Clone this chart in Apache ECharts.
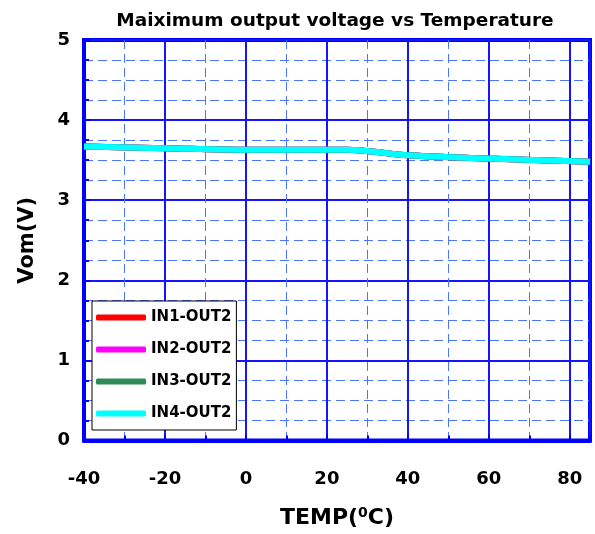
<!DOCTYPE html>
<html><head><meta charset="utf-8">
<script src="https://cdn.jsdelivr.net/npm/echarts@6/dist/echarts.min.js"></script>
<style>html,body{margin:0;padding:0;background:#fff}#c{width:595px;height:534px}</style>
</head><body><div id="c"></div>
<script>
var temps = [-40, -20, 0, 25, 40, 60, 85];
var in1 = [3.67, 3.65, 3.63, 3.63, 3.56, 3.52, 3.48];
var in2 = [3.67, 3.65, 3.63, 3.63, 3.56, 3.52, 3.48];
var in3 = [3.67, 3.65, 3.63, 3.63, 3.56, 3.52, 3.48];
var in4 = [3.67, 3.65, 3.63, 3.63, 3.56, 3.52, 3.48];
var names = ['IN1-OUT2', 'IN2-OUT2', 'IN3-OUT2', 'IN4-OUT2'];
var colors = ['#ff0000', '#ff00ff', '#2e8b57', '#00ffff'];
var seriesData = [in1, in2, in3, in4];

function pairs(arr){ return temps.map(function(t,i){ return [t, arr[i]]; }); }

var font = '"DejaVu Sans", sans-serif';
var chart = echarts.init(document.getElementById('c'));
chart.setOption({
  animation: false,
  title: {
    text: 'Maiximum output voltage vs Temperature',
    left: 330, top: 7, textAlign: 'center',
    textStyle: {fontFamily: font, fontWeight: 'bold', fontSize: 18.5, color: '#000'}
  },
  grid: {left: 84, right: 5, top: 40, bottom: 93, show: true, borderColor: '#0000ff', borderWidth: 4, backgroundColor: 'transparent'},
  legend: {
    orient: 'vertical', left: 92, top: 301,
    data: names.map(function(n){ return {name: n, icon: 'roundRect'}; }),
    itemWidth: 50, itemHeight: 6, itemGap: 15,
    padding: [8, 5, 8, 4],
    backgroundColor: '#fff', borderColor: '#000', borderWidth: 1, borderRadius: 0,
    textStyle: {fontFamily: font, fontWeight: 'bold', fontSize: 15, color: '#000', lineHeight: 17, padding: [0,0,0,0]}
  },
  xAxis: {
    type: 'value', min: -40, max: 85, interval: 20,
    name: '{a|TEMP(}{s|0}{a|C)}', nameLocation: 'middle', nameGap: 66,
    nameTextStyle: {rich: {
      a: {fontFamily: font, fontWeight: 'bold', fontSize: 22, color: '#000'},
      s: {fontFamily: font, fontWeight: 'bold', fontSize: 14, color: '#000', verticalAlign: 'top', padding: [0,0,9,0]}
    }},
    axisLine: {show: true, onZero: false, lineStyle: {color: '#0000ff', width: 4}},
    axisTick: {show: true, inside: true, length: 6, lineStyle: {color: '#0000ff', width: 2}},
    minorTick: {show: true, splitNumber: 2, length: 5, lineStyle: {color: '#0000ff', width: 2}},
    axisLabel: {showMaxLabel: false, margin: 30, fontFamily: font, fontWeight: 'bold', fontSize: 18, color: '#000'},
    splitLine: {show: true, lineStyle: {color: '#1414ff', width: 2}},
    minorSplitLine: {show: true, lineStyle: {color: '#4d74ff', width: 1, type: [9, 5]}}
  },
  yAxis: {
    type: 'value', min: 0, max: 5, interval: 1,
    name: 'Vom(V)', nameLocation: 'middle', nameGap: 46,
    nameTextStyle: {fontFamily: font, fontWeight: 'bold', fontSize: 21, color: '#000'},
    axisLine: {show: true, onZero: false, lineStyle: {color: '#0000ff', width: 4}},
    axisTick: {show: true, inside: true, length: 6, lineStyle: {color: '#0000ff', width: 2}},
    minorTick: {show: true, splitNumber: 4, length: 5, lineStyle: {color: '#0000ff', width: 2}},
    axisLabel: {margin: 14, fontFamily: font, fontWeight: 'bold', fontSize: 18, color: '#000'},
    splitLine: {show: true, lineStyle: {color: '#1414ff', width: 2}},
    minorSplitLine: {show: true, lineStyle: {color: '#4d74ff', width: 1, type: [9, 5]}}
  },
  series: seriesData.map(function(d, i){
    return {
      name: names[i], type: 'line', data: pairs(d), symbol: 'none', smooth: 0.3,
      color: colors[i],
      lineStyle: {color: colors[i], width: 6},
      z: 3 + i
    };
  })
});
</script>
</body></html>
